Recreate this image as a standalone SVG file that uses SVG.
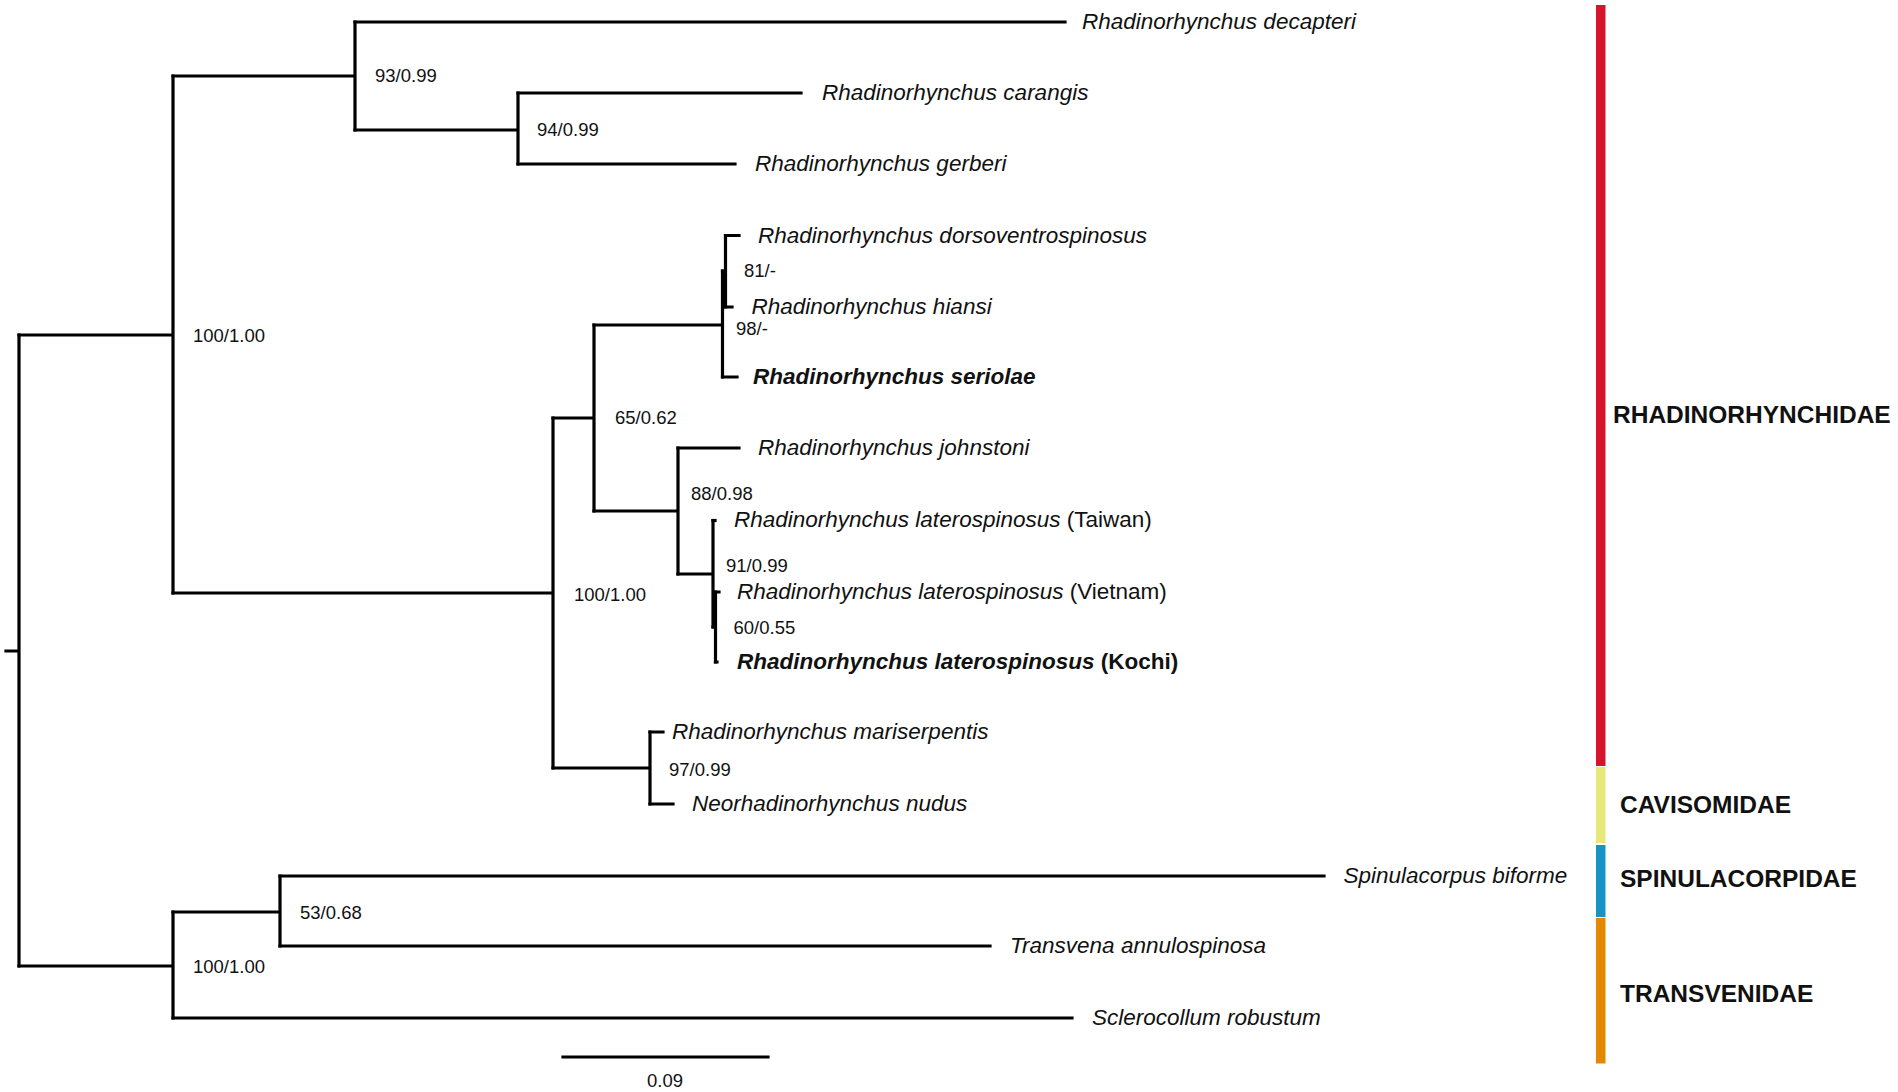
<svg xmlns="http://www.w3.org/2000/svg" width="1898" height="1092" viewBox="0 0 1898 1092">
<style>
.br{fill:none;stroke:#000;stroke-width:3.2;stroke-linecap:square;stroke-linejoin:miter}
.sp{font-family:"Liberation Sans",Arial,sans-serif;font-size:22.5px;font-style:italic;fill:#111}
.b{font-weight:bold}
.n{font-style:normal}
.sv{font-family:"Liberation Sans",Arial,sans-serif;font-size:18.5px;fill:#111}
.fam{font-family:"Liberation Sans",Arial,sans-serif;font-size:24.5px;font-weight:bold;fill:#111}
</style>
<rect width="1898" height="1092" fill="#fff"/>
<g id="connectors">
<path class="br" d="M6,651 H19 M19,335 V966"/>
<path class="br" d="M19,335 H173 M173,76 V593"/>
<path class="br" d="M173,76 H355 M355,22 V130"/>
<path class="br" d="M355,22 H1065"/>
<path class="br" d="M355,130 H518 M518,93 V164"/>
<path class="br" d="M518,93 H801 M518,164 H735"/>
<path class="br" d="M173,593 H553 M553,418 V768"/>
<path class="br" d="M553,418 H594 M594,325 V511"/>
<path class="br" d="M594,325 H722.5 M722.5,271 V377"/>
<path class="br" d="M722.5,271 H725.5 M725.5,235.5 V307"/>
<path class="br" d="M725.5,235.5 H739 M725.5,307 H732 M722.5,377 H737"/>
<path class="br" d="M594,511 H678 M678,448 V574"/>
<path class="br" d="M678,448 H739"/>
<path class="br" d="M678,574 H713 M713,520.5 V627"/>
<path class="br" d="M713,520.5 H715"/>
<path class="br" d="M713,627 H715.5 M715.5,592 V662"/>
<path class="br" d="M715.5,592 H719 M715.5,662 H717"/>
<path class="br" d="M553,768 H650 M650,732 V804"/>
<path class="br" d="M650,732 H663 M650,804 H673"/>
<path class="br" d="M19,966 H173 M173,912 V1018"/>
<path class="br" d="M173,912 H280 M280,876 V946"/>
<path class="br" d="M280,876 H1324 M280,946 H990"/>
<path class="br" d="M173,1018 H1072"/>
</g>
<g id="taxa">
<text id="t-decapteri" class="sp" x="1082" y="29">Rhadinorhynchus decapteri</text>
<text id="t-carangis" class="sp" x="822" y="100">Rhadinorhynchus carangis</text>
<text id="t-gerberi" class="sp" x="755" y="171">Rhadinorhynchus gerberi</text>
<text id="t-dorso" class="sp" x="758" y="242.5">Rhadinorhynchus dorsoventrospinosus</text>
<text id="t-hiansi" class="sp" x="751.5" y="313.5">Rhadinorhynchus hiansi</text>
<text id="t-seriolae" class="sp b" x="753" y="384">Rhadinorhynchus seriolae</text>
<text id="t-johnstoni" class="sp" x="758" y="455">Rhadinorhynchus johnstoni</text>
<text id="t-taiwan" class="sp" x="734" y="527">Rhadinorhynchus laterospinosus<tspan class="n"> (Taiwan)</tspan></text>
<text id="t-vietnam" class="sp" x="737" y="598.5">Rhadinorhynchus laterospinosus<tspan class="n"> (Vietnam)</tspan></text>
<text id="t-kochi" class="sp b" x="737" y="669">Rhadinorhynchus laterospinosus<tspan class="n"> (Kochi)</tspan></text>
<text id="t-mariserpentis" class="sp" x="672" y="739">Rhadinorhynchus mariserpentis</text>
<text id="t-nudus" class="sp" x="692" y="811">Neorhadinorhynchus nudus</text>
<text id="t-biforme" class="sp" x="1343.5" y="883">Spinulacorpus biforme</text>
<text id="t-annulospinosa" class="sp" x="1010" y="953">Transvena annulospinosa</text>
<text id="t-robustum" class="sp" x="1092" y="1025">Sclerocollum robustum</text>
</g>
<g id="supports">
<text class="sv" x="375" y="82">93/0.99</text>
<text class="sv" x="537" y="136">94/0.99</text>
<text class="sv" x="193" y="341.5">100/1.00</text>
<text class="sv" x="744" y="277">81/-</text>
<text class="sv" x="736" y="335">98/-</text>
<text class="sv" x="615" y="424">65/0.62</text>
<text class="sv" x="691" y="499.5">88/0.98</text>
<text class="sv" x="726" y="572">91/0.99</text>
<text class="sv" x="733.5" y="634">60/0.55</text>
<text class="sv" x="574" y="600.5">100/1.00</text>
<text class="sv" x="669" y="775.5">97/0.99</text>
<text class="sv" x="300" y="918.5">53/0.68</text>
<text class="sv" x="193" y="972.5">100/1.00</text>
</g>
<g id="scale">
<path class="br" d="M563,1057 H768"/>
<text class="sv" x="665" y="1086.5" text-anchor="middle">0.09</text>
</g>
<g id="fam-rhadinorhynchidae">
<rect x="1596" y="5" width="9.5" height="761" fill="#D7142D"/>
<text class="fam" x="1613" y="423">RHADINORHYNCHIDAE</text>
</g>
<g id="fam-cavisomidae">
<rect x="1596" y="767" width="9.5" height="76" fill="#E6E97A"/>
<text class="fam" x="1620" y="812.5">CAVISOMIDAE</text>
</g>
<g id="fam-spinulacorpidae">
<rect x="1596" y="845" width="9.5" height="72" fill="#1694C6"/>
<text class="fam" x="1620" y="886.5">SPINULACORPIDAE</text>
</g>
<g id="fam-transvenidae">
<rect x="1596" y="918" width="9.5" height="145.5" fill="#E38800"/>
<text class="fam" x="1620" y="1001.5">TRANSVENIDAE</text>
</g>
</svg>
